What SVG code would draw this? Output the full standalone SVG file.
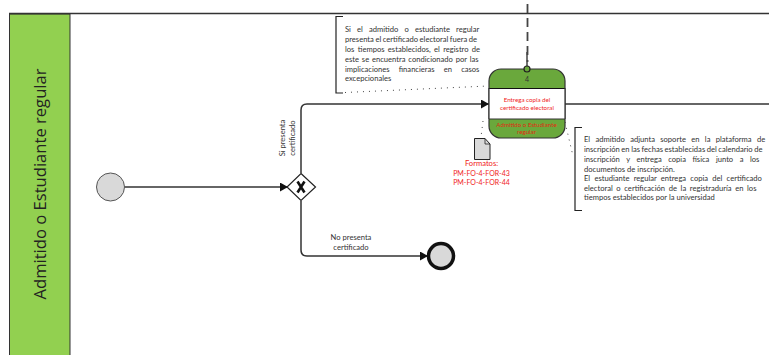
<svg xmlns="http://www.w3.org/2000/svg" width="769" height="355" viewBox="0 0 769 355">
<style>
text{font-family:"Lato","Liberation Sans",sans-serif}
.note{font-size:7.6px;fill:#333}
.lab{font-size:7.6px;fill:#333;text-anchor:middle}
.red{fill:#f01c1c;text-anchor:middle}
.flow{fill:none;stroke:#333;stroke-width:1.5}
.dot{fill:none;stroke:#444;stroke-width:1;stroke-dasharray:1 5}
.br{fill:none;stroke:#222;stroke-width:1.2}
</style>
<defs>
<marker id="arr" markerUnits="userSpaceOnUse" markerWidth="9" markerHeight="9" refX="8" refY="4.5" orient="auto"><path d="M0 0L8 4.5L0 9Z" fill="#111"/></marker>
</defs>
<rect width="769" height="355" fill="#fff"/>
<g id="lane">
<rect x="9.500" y="14" width="60.500" height="345" fill="#92d050" stroke="#333" stroke-width="1"/>
<path d="M9 13.500H769" stroke="#333" stroke-width="1.500" fill="none"/>
<text transform="translate(46 184) rotate(-90)" text-anchor="middle" style="font-family:'Open Sans',sans-serif;font-size:16.600px;fill:#222">Admitido o Estudiante regular</text>
</g>
<g id="connectors">
<path class="flow" d="M124.500 187H288" marker-end="url(#arr)"/>
<path class="flow" d="M301 173V110Q301 104 307 104H489" marker-end="url(#arr)"/>
<path class="flow" d="M301 201V250Q301 256 307 256H428" marker-end="url(#arr)"/>
<path class="flow" d="M565 104H769"/>
<path d="M527.500 4V62" fill="none" stroke="#444" stroke-width="1.800" stroke-dasharray="9 5"/>
<path d="M527 52V66" fill="none" stroke="#444" stroke-width="1.500"/>
<path class="dot" d="M345 92.500L488 86"/>
<path class="dot" d="M483 121L481 137"/>
<path class="dot" d="M565 122L573 156"/>
</g>
<g id="start"><circle cx="110.500" cy="187" r="14" fill="#d9d9d9" stroke="#555" stroke-width="1"/></g>
<g id="gateway">
<path d="M301 173.500L315.500 187L301 200.500L287 187Z" fill="#fff" stroke="#222" stroke-width="1.200"/>
<path d="M297.500 181.500L304.500 192.500M304.500 181.500L297.500 192.500" stroke="#111" stroke-width="2.600" fill="none"/>
</g>
<g id="end"><circle cx="441" cy="256" r="12.500" fill="#d9d9d9" stroke="#111" stroke-width="3.500"/></g>
<g id="task">
<rect x="489" y="69" width="76" height="69" rx="12" fill="#6aa83c" stroke="#333" stroke-width="1.200"/>
<rect x="489" y="88.500" width="76" height="30.500" fill="#fff"/>
<path d="M489 88.500H565" stroke="#111" stroke-width="1"/>
<path d="M489 119H565" stroke="#333" stroke-width="1"/>
<path d="M489 88V119M565 88V119" stroke="#333" stroke-width="1.200"/>
<circle cx="527" cy="69" r="3" fill="#6aa83c" stroke="#222" stroke-width="1.200"/>
<text x="527" y="81.500" text-anchor="middle" font-size="7" fill="#333">4</text>
<text class="red" x="527" y="102" font-size="6.200">Entrega copia del</text>
<text class="red" x="527" y="109.500" font-size="6.200">certificado electoral</text>
<text x="526.500" y="126.500" text-anchor="middle" font-size="6.200" fill="#e02a10">Admitido o Estudiante</text>
<text x="526.500" y="134" text-anchor="middle" font-size="6.200" fill="#e02a10">regular</text>
</g>
<g id="document">
<path d="M474.500 138.500H485L490 144V159.500H474.500Z" fill="#d9d9d9" stroke="#222" stroke-width="1"/>
<path d="M485 138.500V144H490" fill="none" stroke="#222" stroke-width="0.800"/>
<text class="red" x="481.500" y="165.500" font-size="7.600px">Formatos:</text>
<text class="red" x="481.500" y="175.500" font-size="7px">PM-FO-4-FOR-43</text>
<text class="red" x="481.500" y="185" font-size="7px">PM-FO-4-FOR-44</text>
</g>
<g id="note-left">
<path class="br" d="M343 16.500H336V93H343"/>
<text class="note" x="345" y="32" word-spacing="4.200">Si el admitido o estudiante regular</text>
<text class="note" x="345" y="42" word-spacing="-0.400">presenta el certificado electoral fuera de</text>
<text class="note" x="345" y="52" word-spacing="1.400">los tiempos establecidos, el registro de</text>
<text class="note" x="345" y="61.500" word-spacing="0.900">este se encuentra condicionado por las</text>
<text class="note" x="345" y="71.500" word-spacing="7.200">implicaciones financieras en casos</text>
<text class="note" x="345" y="81">excepcionales</text>
</g>
<g id="note-right">
<path class="br" d="M582 127.500H575V210.500H582"/>
<text class="note" x="584" y="142" word-spacing="3.400">El admitido adjunta soporte en la plataforma de</text>
<text class="note" x="584" y="152" word-spacing="-0.400">inscripción en las fechas establecidas del calendario de</text>
<text class="note" x="584" y="162" word-spacing="4.600">inscripción y entrega copia física junto a los</text>
<text class="note" x="584" y="172">documentos de inscripción.</text>
<text class="note" x="584" y="180.500" word-spacing="2.300">El estudiante regular entrega copia del certificado</text>
<text class="note" x="584" y="190.500" word-spacing="1.700">electoral o certificación de la registraduría en los</text>
<text class="note" x="584" y="200">tiempos establecidos por la universidad</text>
</g>
<g id="labels">
<text class="lab" transform="translate(285 138) rotate(-90)">Si presenta</text>
<text class="lab" transform="translate(295 138) rotate(-90)">certificado</text>
<text class="lab" x="351" y="240">No presenta</text>
<text class="lab" x="351" y="250">certificado</text>
</g>
</svg>
